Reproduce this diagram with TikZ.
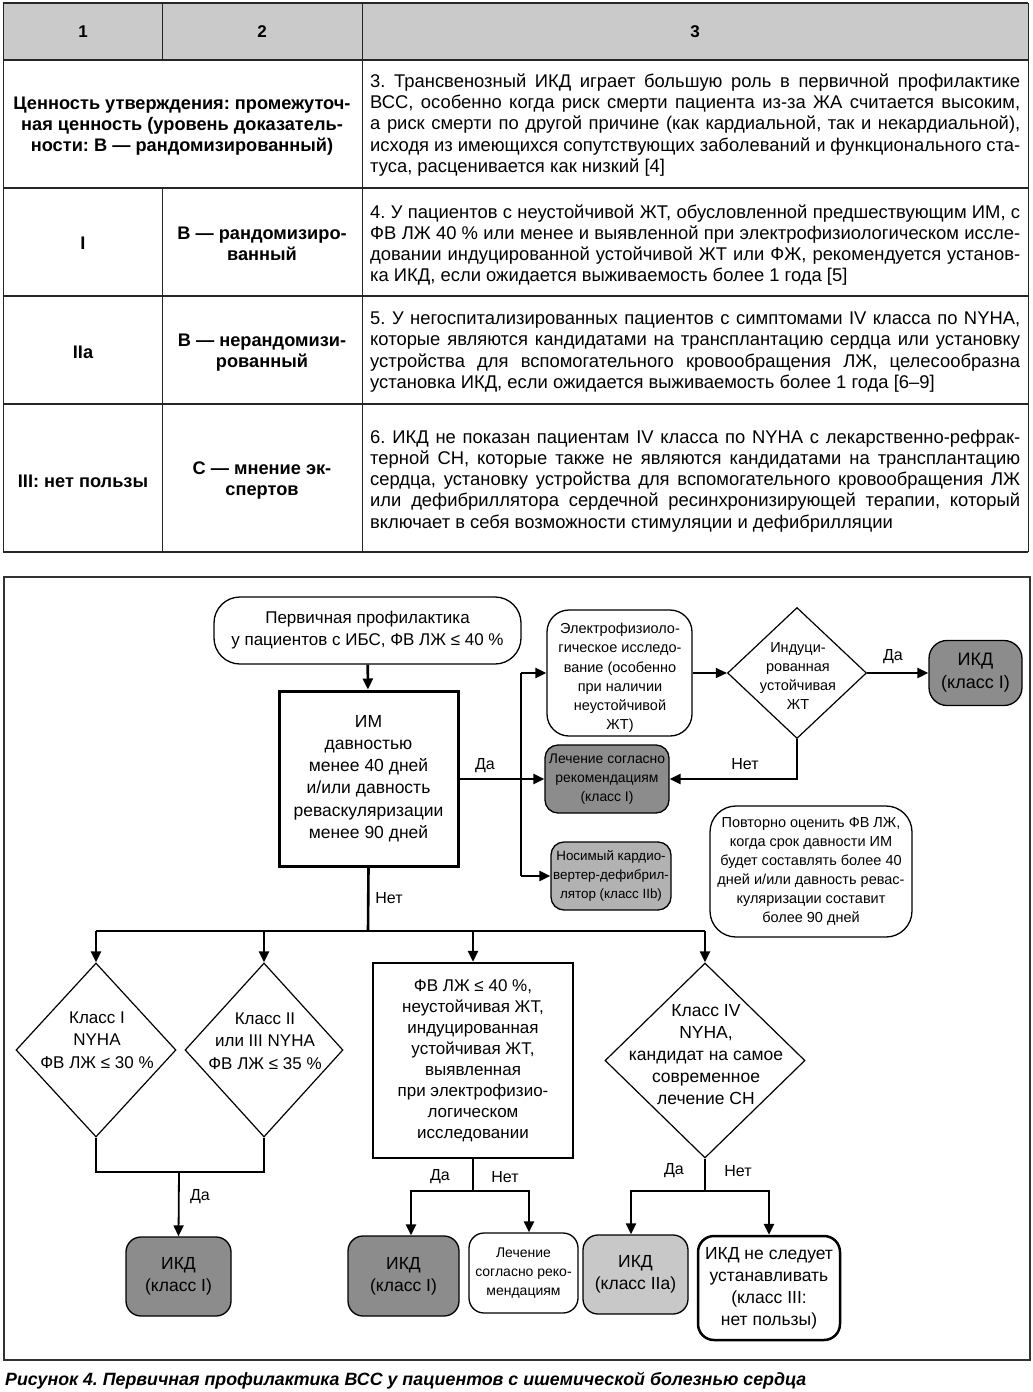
\documentclass[tikz,border=0pt]{standalone}
\usepackage{fontspec}
\setmainfont{Liberation Sans}
\usetikzlibrary{shapes.geometric,arrows.meta}
\newcommand\myfs[2]{\fontsize{#1}{#2}\selectfont}
\newcommand\jl[1]{\makebox[650pt][s]{#1}}
\definecolor{hdrgray}{HTML}{CACACA}
\definecolor{dkgray}{HTML}{8C8C8C}
\definecolor{mdgray}{HTML}{B2B2B2}
\definecolor{ltgray}{HTML}{C8C8C8}
\frenchspacing
\tikzset{
 tl/.style={line width=1.6pt, draw=black!85},
 vl/.style={line width=1pt, draw=black!85},
 hd/.style={font=\bfseries\myfs{17}{21}, inner sep=0},
 tb/.style={font=\bfseries\myfs{18.2}{21}, align=center, inner sep=0},
 tx/.style={font=\myfs{18.4}{21.2}, align=left, inner sep=0, anchor=west},
 bx/.style={draw, line width=1.3pt, inner sep=0, align=center},
 dm/.style={draw, shape=diamond, line width=1.2pt, inner sep=0},
 txt/.style={inner sep=0, align=center},
 thk/.style={line width=2.6pt},
 med/.style={line width=1.8pt},
 thn/.style={line width=1.3pt},
 arr/.style={-{Triangle[length=11pt,width=10pt]}},
 lbl/.style={font=\myfs{16}{19}, inner sep=0},
}
\begin{document}
\begin{tikzpicture}[x=1pt,y=-1pt]
\useasboundingbox (0,0) rectangle (1033,1392);
% ---------------- table ----------------
\fill[hdrgray] (3,3) rectangle (1028,60);
\draw[vl] (3,3) -- (3,552);
\draw[vl] (162,3) -- (162,60);
\draw[vl] (162,188) -- (162,552);
\draw[vl] (362,3) -- (362,552);
\draw[vl] (1028,3) -- (1028,552);
\foreach \yy in {3,60,188,296,404,552} {\draw[tl] (3,\yy) -- (1028,\yy);}
\node[hd] (h1) at (83,32) {1};
\node[hd] (h2) at (262,32) {2};
\node[hd] (h3) at (695,32) {3};
\node[tb] (r1a) at (182,126) {Ценность утверждения: промежуточ-\\ная ценность (уровень доказатель-\\ности: B — рандомизированный)};
\node[tb] (r2a) at (83,243) {I};
\node[tb] (r2b) at (262,244) {B — рандомизиро-\\ванный};
\node[tb] (r3a) at (83,352) {IIa};
\node[tb] (r3b) at (262,353) {B — нерандомизи-\\рованный};
\node[tb] (r4a) at (83,481) {III: нет пользы};
\node[tb] (r4b) at (262,481) {C — мнение эк-\\спертов};
\node[tx] (r1c) at (370,125) {\jl{3. Трансвенозный ИКД играет большую роль в первичной профилактике}\\
\jl{ВСС, особенно когда риск смерти пациента из-за ЖА считается высоким,}\\
\jl{а риск смерти по другой причине (как кардиальной, так и некардиальной),}\\
\jl{исходя из имеющихся сопутствующих заболеваний и функционального ста-}\\
туса, расценивается как низкий [4]};
\node[tx] (r2c) at (370,245) {\jl{4. У пациентов с неустойчивой ЖТ, обусловленной предшествующим ИМ, с}\\
\jl{ФВ ЛЖ \mbox{40 \%} или менее и выявленной при электрофизиологическом иссле-}\\
\jl{довании индуцированной устойчивой ЖТ или ФЖ, рекомендуется установ-}\\
ка ИКД, если ожидается выживаемость более 1 года [5]};
\node[tx] (r3c) at (370,352) {\jl{5. У негоспитализированных пациентов с симптомами IV класса по NYHA,}\\
\jl{которые являются кандидатами на трансплантацию сердца или установку}\\
\jl{устройства для вспомогательного кровообращения ЛЖ, целесообразна}\\
установка ИКД, если ожидается выживаемость более 1 года [6–9]};
\node[tx] (r4c) at (370,481) {\jl{6. ИКД не показан пациентам IV класса по NYHA с лекарственно-рефрак-}\\
\jl{терной СН, которые также не являются кандидатами на трансплантацию}\\
\jl{сердца, установку устройства для вспомогательного кровообращения ЛЖ}\\
\jl{или дефибриллятора сердечной ресинхронизирующей терапии, который}\\
включает в себя возможности стимуляции и дефибрилляции};
% ---------------- flowchart frame ----------------
\draw[line width=1.2pt, draw=black!80] (4,577) rectangle (1030,1360);
% nodes
\node[bx, rounded corners=26pt, minimum width=307pt, minimum height=67pt, font=\myfs{17}{22}] (start) at (367.5,630.5) {Первичная профилактика\\у пациентов с ИБС, ФВ ЛЖ ≤ 40 \%};
\node[bx, line width=3pt, minimum width=179pt, minimum height=175pt, font=\myfs{17.5}{22.2}] (im) at (368.5,778.5) {ИМ\\давностью\\менее 40 дней\\и/или давность\\реваскуляризации\\менее 90 дней};
\node[bx, rounded corners=22pt, minimum width=145pt, minimum height=126pt] (ephys) at (619.5,673) {};
\node[txt, font=\myfs{14.5}{19.2}] (ephyst) at (620,678) {Электрофизиоло-\\гическое исследо-\\вание (особенно\\при наличии\\неустойчивой\\ЖТ)};
\node[bx, fill=dkgray, rounded corners=13pt, minimum width=124pt, minimum height=68pt, font=\myfs{13.9}{19}] (lech1) at (607,779) {Лечение согласно\\рекомендациям\\(класс I)};
\node[bx, fill=mdgray, rounded corners=13pt, minimum width=120pt, minimum height=68pt, font=\myfs{13.4}{19}] (nos) at (611,876) {Носимый кардио-\\вертер-дефибрил-\\лятор (класс IIb)};
\node[dm, minimum width=139pt, minimum height=131pt] (dia) at (797,673) {};
\node[txt, font=\myfs{14.5}{19}] (diat) at (798,676) {Индуци-\\рованная\\устойчивая\\ЖТ};
\node[bx, fill=dkgray, rounded corners=18pt, minimum width=93pt, minimum height=65pt, font=\myfs{18}{23}] (ikd1) at (975.5,673) {ИКД\\(класс I)};
\node[bx, rounded corners=26pt, minimum width=202pt, minimum height=131pt, font=\myfs{14.5}{19}] (rep) at (811,871.5) {Повторно оценить ФВ ЛЖ,\\когда срок давности ИМ\\будет составлять более 40\\дней и/или давность ревас-\\куляризации составит\\более 90 дней};
\node[dm, minimum width=160pt, minimum height=174pt] (d1) at (96,1050) {};
\node[txt, font=\myfs{17}{22.5}] (d1t) at (97,1040) {Класс I\\NYHA\\ФВ ЛЖ ≤ 30 \%};
\node[dm, minimum width=158pt, minimum height=174pt] (d2) at (264,1050) {};
\node[txt, font=\myfs{17}{22.5}] (d2t) at (265,1041) {Класс II\\или III NYHA\\ФВ ЛЖ ≤ 35 \%};
\node[bx, line width=2.5pt, minimum width=200pt, minimum height=195pt, font=\myfs{17}{21}] (fv) at (473,1060.5) {ФВ ЛЖ ≤ 40 \%,\\неустойчивая ЖТ,\\индуцированная\\устойчивая ЖТ,\\выявленная\\при электрофизио-\\логическом\\исследовании};
\node[dm, minimum width=200pt, minimum height=195pt] (d4) at (705,1060.5) {};
\node[txt, font=\myfs{17.5}{22}] (d4t) at (706,1055) {Класс IV\\NYHA,\\кандидат на самое\\современное\\лечение СН};
\node[bx, fill=dkgray, rounded corners=15pt, minimum width=105pt, minimum height=79pt, font=\myfs{17.5}{22}] (ikd2) at (178.5,1276.5) {ИКД\\(класс I)};
\node[bx, fill=dkgray, rounded corners=15pt, minimum width=111pt, minimum height=80pt, font=\myfs{17.5}{22}] (ikd3) at (403.5,1276) {ИКД\\(класс I)};
\node[bx, rounded corners=15pt, minimum width=109pt, minimum height=80pt, font=\myfs{14}{19}] (lech2) at (523.5,1273) {Лечение\\согласно реко-\\мендациям};
\node[bx, fill=ltgray, rounded corners=15pt, minimum width=105pt, minimum height=79pt, font=\myfs{17.5}{22}] (ikd4) at (635.5,1274.5) {ИКД\\(класс IIa)};
\node[bx, line width=2.5pt, rounded corners=16pt, minimum width=142pt, minimum height=104pt, font=\myfs{17.5}{22}] (no) at (769,1288) {ИКД не следует\\устанавливать\\(класс III:\\нет пользы)};
% connectors
\draw[thk,arr] (start) -- (im);
\coordinate (bt) at (521,673);
\coordinate (bb) at (521,876);
\draw[thk,arr] (im.east |- lech1.west) -- (lech1.west);
\draw[thk] (bt) -- (bb);
\draw[thk,arr] (bt) -- (ephys.west);
\draw[thk,arr] (bb) -- (nos.west);
\draw[thn,arr] (ephys.east) -- (dia.west);
\draw[thk,arr] (dia.east) -- (ikd1.west);
\draw[thk,arr] (dia.south) |- (lech1.east);
\node[lbl] (lda1) at (485,766) {Да};
\node[lbl] (lda2) at (893,657) {Да};
\node[lbl] (lnet1) at (745,764) {Нет};
\coordinate (bus) at (368,931);
\draw[thk] (im.south) -- (bus);
\node[lbl] (lnet2) at (389,898) {Нет};
\draw[thk] (d1.north |- bus) -- (d4.north |- bus);
\draw[thk,arr] (d1.north |- bus) -- (d1.north);
\draw[thk,arr] (d2.north |- bus) -- (d2.north);
\draw[thk,arr] (fv.north |- bus) -- (fv.north);
\draw[thk,arr] (d4.north |- bus) -- (d4.north);
\coordinate (j1) at (179,1172);
\draw[thk] (d1.south) |- (j1) -| (d2.south);
\draw[med,arr] (j1) -- (ikd2.north);
\node[lbl] (lda3) at (200,1197) {Да};
\coordinate (j2) at (473,1191);
\draw[thk] (fv.south) -- (j2);
\draw[thk,arr] (j2) -| ([xshift=7.5pt]ikd3.north);
\draw[thk,arr] (j2) -| ([xshift=5.5pt]lech2.north);
\node[lbl] (lda4) at (440,1177) {Да};
\node[lbl] (lnet3) at (505,1177) {Нет};
\coordinate (j3) at (705,1191);
\draw[thk] (d4.south) -- (j3);
\draw[thk,arr] (j3) -| ([xshift=-4.5pt]ikd4.north);
\draw[thk,arr] (j3) -| (no.north);
\node[lbl] (lda5) at (674,1171) {Да};
\node[lbl] (lnet4) at (738,1171) {Нет};
% caption
\node[inner sep=0, anchor=west, font=\bfseries\itshape\myfs{17.8}{20}] (cap) at (5,1381) {Рисунок 4. Первичная профилактика ВСС у пациентов с ишемической болезнью сердца};
\end{tikzpicture}
\end{document}
